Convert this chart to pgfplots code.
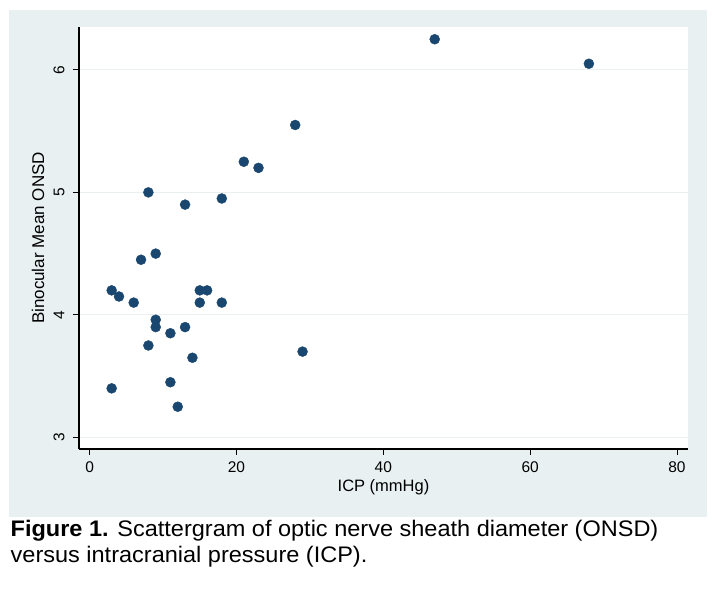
\documentclass[border=0pt]{standalone}
\usepackage{fontspec}
\setmainfont{Liberation Sans}
\usepackage{pgfplots}
\pgfplotsset{compat=1.18}
\definecolor{bgc}{RGB}{232,240,242}
\definecolor{gridc}{RGB}{234,240,242}
\definecolor{navy}{RGB}{26,71,111}
\begin{document}
\begin{tikzpicture}
\useasboundingbox (-79pt,-156pt) rectangle (637pt,449pt);
\fill[bgc] (-70pt,-68pt) rectangle (628pt,439pt);
\begin{axis}[
  at={(0pt,0pt)}, anchor=south west,
  scale only axis, width=609pt, height=422pt,
  xmin=-1.45, xmax=81.5, ymin=2.905, ymax=6.35,
  axis x line*=bottom, axis y line*=left,
  axis line style={black, line width=1.1pt},
  axis background/.style={fill=white},
  xtick={0,20,40,60,80}, ytick={3,4,5,6},
  tick align=outside, major tick length=6pt,
  tick style={black, line width=0.9pt},
  ymajorgrids, grid style={gridc, line width=1.2pt},
  /pgf/number format/assume math mode=true,
  tick label style={font=\fontsize{15.5}{18}\selectfont},
  yticklabel style={rotate=90, anchor=south},
  yticklabel shift=5pt, xticklabel shift=3pt,
  xlabel={ICP (mmHg)}, ylabel={Binocular Mean ONSD},
  every axis x label/.style={at={(axis description cs:0.5,-0.09)}, anchor=center, font=\fontsize{16.5}{19}\selectfont},
  every axis y label/.style={at={(axis description cs:-0.0673,0.5)}, anchor=center, rotate=90, font=\fontsize{17}{19}\selectfont},
  clip=false,
]
\addplot[only marks, mark=*, mark size=5pt, mark options={fill=navy, draw=navy}] coordinates {
(47,6.25) (68,6.05) (28,5.55) (21,5.25) (23,5.2) (8,5.0) (13,4.9) (18,4.95)
(7,4.45) (9,4.5) (3,4.2) (4,4.15) (6,4.1) (15,4.2) (16,4.2) (15,4.1) (18,4.1)
(9,3.96) (9,3.9) (11,3.85) (13,3.9) (8,3.75) (14,3.65) (29,3.7) (11,3.45)
(3,3.4) (12,3.25)
};
\end{axis}
\node[anchor=base west, xscale=1.045, font=\fontsize{22.5}{26}\selectfont] at (-72pt,-88pt) {\textbf{Figure 1.} Scattergram of optic nerve sheath diameter (ONSD)};
\node[anchor=base west, xscale=1.045, font=\fontsize{22.5}{26}\selectfont] at (-72pt,-114pt) {versus intracranial pressure (ICP).};
\end{tikzpicture}
\end{document}
